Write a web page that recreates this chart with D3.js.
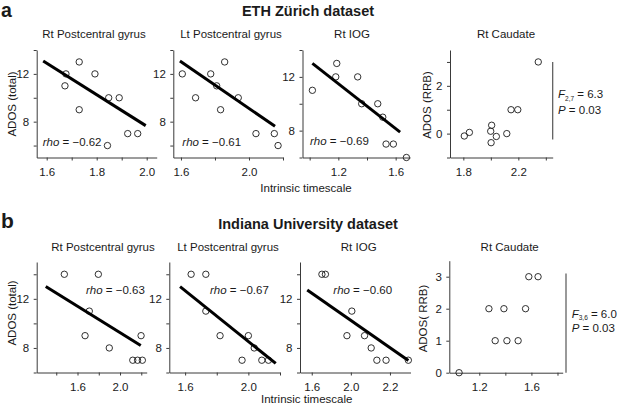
<!DOCTYPE html>
<html><head><meta charset="utf-8">
<script src="https://cdn.jsdelivr.net/npm/d3@7"></script>
<style>
body{margin:0;background:#fff}
svg{display:block}
text{font-family:"Liberation Sans",Arial,Helvetica,sans-serif;fill:#1a1a1a}
</style>
</head><body>
<svg id="c" width="617" height="404"></svg>
<script>
// ---------- DATA ----------
const rowTitles = ["ETH Zürich dataset", "Indiana University dataset"];
const rowLetters = ["a", "b"];
const panelTitles = ["Rt Postcentral gyrus", "Lt Postcentral gyrus", "Rt IOG", "Rt Caudate"];
const xAxisTitle = "Intrinsic timescale";
const yTitlesTotal = ["ADOS (total)", "ADOS (total)"];
const yTitlesRRB = ["ADOS (RRB)", "ADOS( RRB)"];

// ETH Zürich
const ethRtPostX = [1.677, 1.673, 1.73, 1.73, 1.793, 1.848, 1.89, 1.924, 1.964, 1.843];
const ethRtPostY = [12, 11, 13, 9, 12, 10, 10, 7, 7, 6];
const ethRtPostFit = [[1.586, 13.08], [1.996, 7.67]];
const ethLtPostX = [1.608, 1.686, 1.775, 1.81, 1.857, 1.833, 1.937, 2.041, 2.149, 2.171];
const ethLtPostY = [12, 10, 12, 11, 13, 9, 10, 7, 7, 6];
const ethLtPostFit = [[1.594, 13.08], [2.153, 7.61]];
const ethIogX = [1.019, 1.189, 1.182, 1.335, 1.363, 1.475, 1.51, 1.533, 1.584, 1.675];
const ethIogY = [11, 13, 12, 12, 10, 10, 9, 7, 7, 6];
const ethIogFit = [[1.019, 13.0], [1.631, 7.89]];
const ethCauX = [1.807, 1.844, 2.006, 1.999, 2.04, 2.002, 2.116, 2.147, 2.196, 2.345];
const ethCauY = [-0.1, 0.05, 0.35, 0.1, -0.12, -0.38, 0, 1, 1, 3];

// Indiana University
const iuRtPostX = [1.476, 1.796, 1.711, 1.671, 1.899, 2.198, 2.12, 2.165, 2.21];
const iuRtPostY = [14, 14, 11, 9, 8, 9, 7, 7, 7];
const iuRtPostFit = [[1.301, 13.0], [2.195, 8.2]];
const iuLtPostX = [1.638, 1.731, 1.731, 1.821, 2.0, 2.037, 1.96, 2.085, 2.127];
const iuLtPostY = [14, 14, 11, 9, 9, 8, 7, 7, 7];
const iuLtPostFit = [[1.568, 13.0], [2.173, 6.74]];
const iuIogX = [1.852, 1.87, 2.005, 1.98, 2.07, 2.104, 2.133, 2.18, 2.294];
const iuIogY = [14, 14, 11, 9, 9, 8, 7, 7, 7];
const iuIogFit = [[1.777, 12.72], [2.294, 6.98]];
const iuCauX = [1.045, 1.274, 1.389, 1.555, 1.322, 1.412, 1.498, 1.58, 1.651];
const iuCauY = [0, 2, 2, 2, 1, 1, 1, 3, 3];

// statistics text
const rhoTop = ["−0.62", "−0.61", "−0.69"];
const rhoBottom = ["−0.63", "−0.67", "−0.60"];
const fStats = [{df: "2,7", f: "6.3", p: "0.03"}, {df: "3,6", f: "6.0", p: "0.03"}];
const fBarY = [[3, -0.25], [3.1, 0]];

// axis ticks
const xTicksP1 = [1.6, 1.7, 1.8, 1.9, 2.0], xLabP1 = ["1.6", "", "1.8", "", "2.0"];
const xTicksP2 = [1.6, 1.8, 2.0, 2.2], xLabP2 = ["1.6", "", "2.0", ""];
const xTicksP3 = [1.0, 1.2, 1.4, 1.6], xLabP3 = ["", "1.2", "", "1.6"];
const xTicksP4 = [1.8, 2.0, 2.2, 2.4], xLabP4 = ["1.8", "", "2.2", ""];
const xTicksP5 = [1.4, 1.6, 1.8, 2.0, 2.2], xLabP5 = ["", "1.6", "", "2.0", ""];
const xTicksP6 = [1.6, 1.8, 2.0, 2.2], xLabP6 = ["1.6", "", "2.0", ""];
const xTicksP7 = [1.8, 2.0, 2.2], xLabP7 = ["1.6", "2.0", "2.2"];
const xTicksP8 = [1.2, 1.4, 1.6, 1.8], xLabP8 = ["1.2", "", "1.6", ""];
const yTicksTotal = [6, 8, 10, 12, 14], yLabTotal = ["", "8", "", "12", ""];
const yTicksRRBa = [-1, 0, 1, 2, 3], yLabRRBa = ["", "0", "", "2", ""];
const yTicksRRBb = [0, 1, 2, 3], yLabRRBb = ["0", "1", "2", "3"];

// ---------- LAYOUT ----------
const svg = d3.select("#c");
const TOP = [50, 157.5], BOT = [262, 372.5];
const panels = [
  {x: ethRtPostX, y: ethRtPostY, fit: ethRtPostFit, xd: [1.56, 2.04], xr: [36.7, 156.7], yd: [5, 14], yr: TOP, xt: xTicksP1, xl: xLabP1, yt: yTicksTotal, yl: yLabTotal, title: 0, tx: 94, rho: rhoTop[0], rx: 42.7, ry: 145.7},
  {x: ethLtPostX, y: ethLtPostY, fit: ethLtPostFit, xd: [1.555, 2.2], xr: [173.3, 283], yd: [5, 14], yr: TOP, xt: xTicksP2, xl: xLabP2, yt: yTicksTotal, yl: yLabTotal, title: 1, tx: 231, rho: rhoTop[1], rx: 182.3, ry: 145.7},
  {x: ethIogX, y: ethIogY, fit: ethIogFit, xd: [0.95, 1.7], xr: [302.5, 410], yd: [6, 14], yr: TOP, xt: xTicksP3, xl: xLabP3, yt: yTicksTotal, yl: yLabTotal, title: 2, tx: 352, rho: rhoTop[2], rx: 310, ry: 144.5},
  {x: ethCauX, y: ethCauY, xd: [1.703, 2.45], xr: [450, 552.7], yd: [-1, 3.5], yr: TOP, xt: xTicksP4, xl: xLabP4, yt: yTicksRRBa, yl: yLabRRBa, title: 3, tx: 506, f: 0, fx: 558, fy: 98, barX: 552.7},
  {x: iuRtPostX, y: iuRtPostY, fit: iuRtPostFit, xd: [1.216, 2.251], xr: [36.7, 146.7], yd: [6, 15], yr: BOT, xt: xTicksP5, xl: xLabP5, yt: yTicksTotal, yl: yLabTotal, title: 0, tx: 103, rho: rhoBottom[0], rx: 86, ry: 293.5},
  {x: iuLtPostX, y: iuLtPostY, fit: iuLtPostFit, xd: [1.5, 2.2], xr: [169.3, 280], yd: [6, 15], yr: BOT, xt: xTicksP6, xl: xLabP6, yt: yTicksTotal, yl: yLabTotal, title: 1, tx: 228, rho: rhoBottom[1], rx: 210, ry: 293.5},
  {x: iuIogX, y: iuIogY, fit: iuIogFit, xd: [1.74, 2.305], xr: [300, 410.5], yd: [6, 15], yr: BOT, xt: xTicksP7, xl: xLabP7, yt: yTicksTotal, yl: yLabTotal, title: 2, tx: 358.7, rho: rhoBottom[2], rx: 333.3, ry: 293.5},
  {x: iuCauX, y: iuCauY, xd: [0.97, 1.84], xr: [449.3, 562.7], yd: [0, 3.5], yr: [260.7, 372.7], xt: xTicksP8, xl: xLabP8, yt: yTicksRRBb, yl: yLabRRBb, title: 3, tx: 509.7, f: 1, fx: 571.7, fy: 317.5, barX: 566}
];

const FS = 11.5;
panels.forEach((p, i) => {
  const top = i < 4;
  const x = d3.scaleLinear().domain(p.xd).range(p.xr);
  const y = d3.scaleLinear().domain(p.yd).range([p.yr[1], p.yr[0]]);
  const g = svg.append("g");

  const xa = d3.axisBottom(x).tickValues(p.xt).tickFormat((d, k) => p.xl[k]).tickSize(3).tickSizeOuter(0).tickPadding(7.5);
  const ya = d3.axisLeft(y).tickValues(p.yt).tickFormat((d, k) => p.yl[k]).tickSize(3).tickSizeOuter(0).tickPadding(4.5);
  const gx = g.append("g").attr("transform", `translate(0,${p.yr[1]})`).call(xa);
  const gy = g.append("g").attr("transform", `translate(${p.xr[0]},0)`).call(ya);
  [gx, gy].forEach(a => {
    a.selectAll("path,line").attr("stroke", "#3a3a3a").attr("stroke-width", 1);
    a.selectAll("text").attr("font-size", FS).attr("font-family", '"Liberation Sans",Arial,sans-serif').attr("fill", "#1a1a1a");
  });

  // points
  g.selectAll("circle.pt").data(p.x.map((v, k) => [v, p.y[k]])).enter().append("circle")
    .attr("cx", d => x(d[0])).attr("cy", d => y(d[1])).attr("r", 3.2)
    .attr("fill", "none").attr("stroke", "#1a1a1a").attr("stroke-width", 0.9);

  // regression line
  if (p.fit) {
    g.append("line").attr("x1", x(p.fit[0][0])).attr("y1", y(p.fit[0][1]))
      .attr("x2", x(p.fit[1][0])).attr("y2", y(p.fit[1][1]))
      .attr("stroke", "#000").attr("stroke-width", 3);
    const t = g.append("text").attr("x", p.rx).attr("y", p.ry).attr("font-size", FS);
    t.append("tspan").attr("font-style", "italic").text("rho");
    t.append("tspan").text(" = " + p.rho);
  }

  // title
  g.append("text").attr("x", p.tx).attr("y", top ? 37.5 : 250.5).attr("text-anchor", "middle")
    .attr("font-size", FS).text(panelTitles[p.title]);

  // F stats
  if (p.f !== undefined) {
    const s = fStats[p.f];
    g.append("line").attr("x1", p.barX).attr("x2", p.barX)
      .attr("y1", y(fBarY[p.f][0])).attr("y2", y(fBarY[p.f][1]))
      .attr("stroke", "#555").attr("stroke-width", 1.2);
    const t = g.append("text").attr("x", p.fx).attr("y", p.fy).attr("font-size", FS);
    t.append("tspan").attr("font-style", "italic").text("F");
    t.append("tspan").attr("font-size", 6.5).attr("dy", 2.5).text(s.df);
    t.append("tspan").attr("dy", -2.5).text(" = " + s.f);
    const t2 = g.append("text").attr("x", p.fx).attr("y", p.fy + (p.f === 0 ? 16 : 14.5)).attr("font-size", FS);
    t2.append("tspan").attr("font-style", "italic").text("P");
    t2.append("tspan").text(" = " + s.p);
  }
});

// y-axis titles
function yTitle(txt, cx, cy) {
  svg.append("text").attr("transform", `translate(${cx},${cy}) rotate(-90)`)
    .attr("text-anchor", "middle").attr("dy", "0.35em").attr("font-size", FS).text(txt);
}
yTitle(yTitlesTotal[0], 12, 104);
yTitle(yTitlesTotal[1], 12, 313);
yTitle(yTitlesRRB[0], 427, 105);
yTitle(yTitlesRRB[1], 423.3, 318.5);

// x-axis titles
svg.append("text").attr("x", 306).attr("y", 191.7).attr("text-anchor", "middle").attr("font-size", FS).text(xAxisTitle);
svg.append("text").attr("x", 306.7).attr("y", 402.5).attr("text-anchor", "middle").attr("font-size", FS).text(xAxisTitle);

// row titles & letters
svg.append("text").attr("x", 308).attr("y", 15.5).attr("text-anchor", "middle").attr("font-size", 14.5).attr("font-weight", "bold").text(rowTitles[0]);
svg.append("text").attr("x", 308).attr("y", 228.5).attr("text-anchor", "middle").attr("font-size", 14.5).attr("font-weight", "bold").text(rowTitles[1]);
svg.append("text").attr("x", 1).attr("y", 17).attr("font-size", 19.5).attr("font-weight", "bold").text(rowLetters[0]);
svg.append("text").attr("x", 1).attr("y", 228).attr("font-size", 21).attr("font-weight", "bold").text(rowLetters[1]);
</script>
</body></html>
